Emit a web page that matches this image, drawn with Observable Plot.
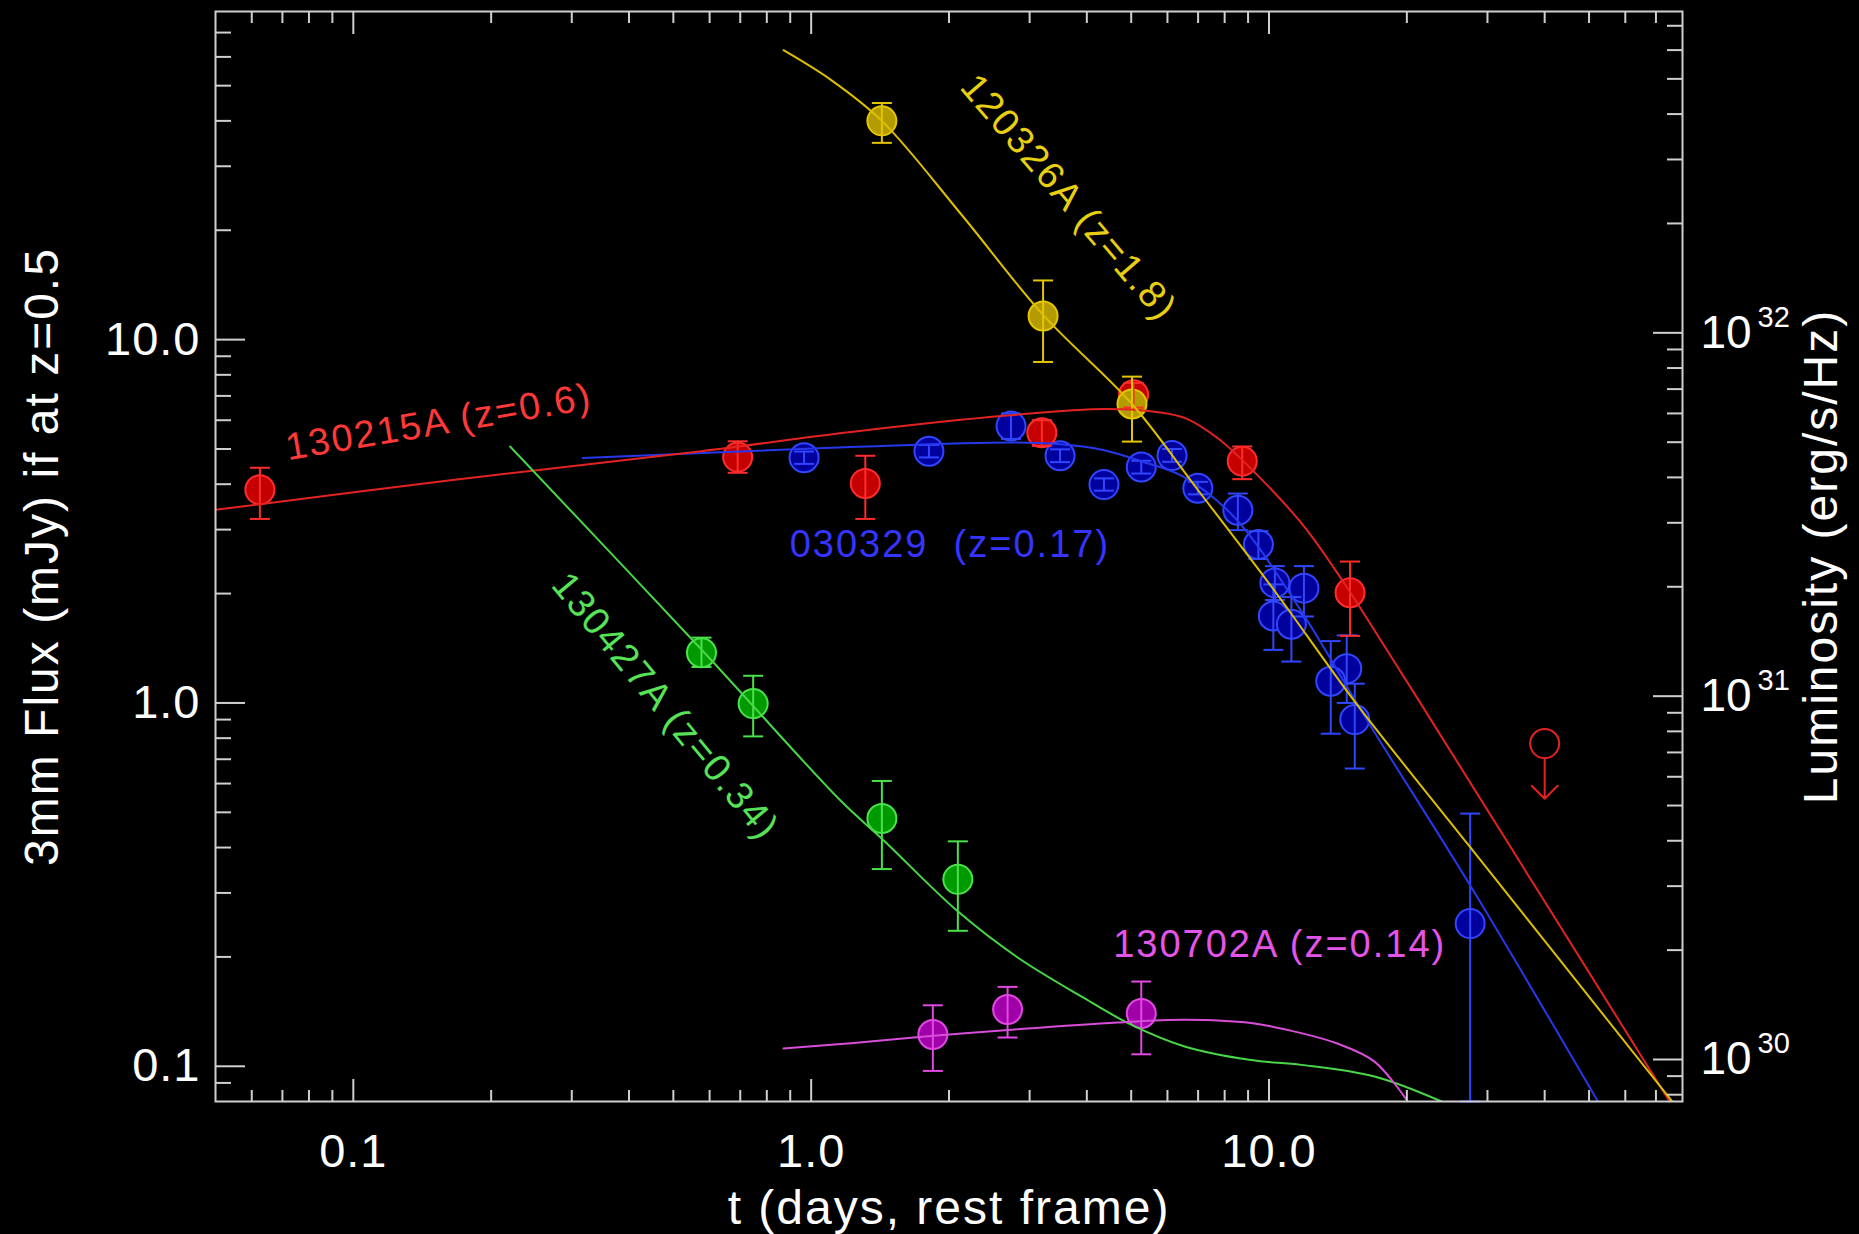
<!DOCTYPE html>
<html>
<head>
<meta charset="utf-8">
<script src="https://cdn.jsdelivr.net/npm/d3@7"></script>
<script src="https://cdn.jsdelivr.net/npm/@observablehq/plot@0.6"></script>
<style>
  html, body { margin: 0; padding: 0; background: #000; }
  #chart svg { display: block; }
</style>
</head>
<body>
<div id="chart"></div>
<script>
// ---------------- tick values ----------------
const xMajorTicks = [0.1, 1, 10];
const xMinorTicks = [0.06, 0.07, 0.08, 0.09, 0.2, 0.3, 0.4, 0.5, 0.6, 0.7, 0.8, 0.9,
                     2, 3, 4, 5, 6, 7, 8, 9, 20, 30, 40, 50, 60, 70];
const yMajorTicks = [0.1, 1, 10];
const yMinorTicks = [0.09, 0.2, 0.3, 0.4, 0.5, 0.6, 0.7, 0.8, 0.9,
                     2, 3, 4, 5, 6, 7, 8, 9, 20, 30, 40, 50, 60, 70];
const lumMajor = [1e30, 1e31, 1e32];
const lumMajorExponent = ["30", "31", "32"];
const lumMinor = [8e29, 9e29, 2e30, 3e30, 4e30, 5e30, 6e30, 7e30, 8e30, 9e30,
                  2e31, 3e31, 4e31, 5e31, 6e31, 7e31, 8e31, 9e31,
                  2e32, 3e32, 4e32, 5e32, 6e32, 7e32];
const mJyPerLum = 1.044e-31;   // 3mm flux (mJy, z=0.5) per erg/s/Hz

// ---------------- 030329 (z=0.17) ----------------
const t030329  = [0.965, 1.808, 2.732, 3.496, 4.36, 5.26, 6.14, 6.99, 8.55, 9.48, 10.30, 11.92, 10.22, 11.19, 14.78, 13.64, 15.39, 27.5];
const f030329  = [4.73, 4.93, 5.78, 4.79, 3.99, 4.46, 4.80, 3.90, 3.39, 2.73, 2.14, 2.07, 1.735, 1.646, 1.243, 1.148, 0.90, 0.247];
const lo030329 = [4.55, 4.74, 5.33, 4.60, 3.84, 4.28, 4.61, 3.75, 2.99, 2.49, 1.92, 1.73, 1.40, 1.30, 1.00, 0.823, 0.66, 0.08];
const hi030329 = [4.92, 5.13, 6.26, 4.99, 4.15, 4.64, 5.00, 4.06, 3.77, 2.97, 2.38, 2.38, 2.12, 1.956, 1.535, 1.48, 1.13, 0.496];
const modelT030329 = [0.317, 1.222, 2.744, 3.51, 4.34, 5.28, 6.54, 8.41, 11.76, 16.4, 27.7, 52.3];
const modelF030329 = [4.72, 5.06, 5.21, 5.15, 4.97, 4.62, 4.18, 3.24, 1.79, 0.893, 0.31, 0.08];

// ---------------- 130215A (z=0.6) ----------------
const t130215  = [0.0625, 0.691, 1.313, 3.19, 5.06, 8.74, 15.03];
const f130215  = [3.86, 4.75, 4.02, 5.54, 7.05, 4.63, 2.01];
const lo130215 = [3.21, 4.30, 3.21, 5.10, 6.50, 4.13, 1.53];
const hi130215 = [4.44, 5.25, 4.79, 6.00, 7.60, 5.08, 2.45];
const limT130215 = [40.0];
const limF130215 = [0.773];
const limArrowF130215 = [0.545];
const modelT130215 = [0.05, 0.163, 0.575, 1.222, 2.68, 4.42, 5.79, 6.62, 7.73, 8.74, 11.76, 13.9, 15.03, 19.45, 21.3, 75];
const modelF130215 = [3.40, 4.10, 4.93, 5.57, 6.18, 6.44, 6.30, 6.05, 5.35, 4.66, 3.13, 2.34, 2.02, 1.21, 1.01, 0.08];

// ---------------- 120326A (z=1.8) ----------------
const t120326  = [1.427, 3.21, 5.02];
const f120326  = [40.0, 11.61, 6.65];
const lo120326 = [34.8, 8.68, 5.24];
const hi120326 = [44.8, 14.55, 7.91];
const modelT120326 = [0.87, 1.106, 1.427, 2.128, 3.21, 5.02, 7.0, 10.3, 15.38, 27.2, 76];
const modelF120326 = [62.6, 51.8, 40.0, 22.1, 11.7, 6.65, 3.85, 2.03, 1.01, 0.408, 0.08];

// ---------------- 130427A (z=0.34) ----------------
const t130427  = [0.576, 0.747, 1.427, 2.091];
const f130427  = [1.375, 0.996, 0.481, 0.327];
const lo130427 = [1.256, 0.809, 0.349, 0.236];
const hi130427 = [1.513, 1.188, 0.610, 0.416];
const modelT130427 = [0.22, 0.584, 1.162, 1.433, 2.09, 2.83, 3.95, 4.92, 6.54, 9.14, 11.76, 17.0, 23.8];
const modelF130427 = [5.08, 1.377, 0.537, 0.421, 0.267, 0.199, 0.154, 0.1315, 0.1134, 0.104, 0.1009, 0.0937, 0.08];

// ---------------- 130702A (z=0.14) ----------------
const t130702  = [1.844, 2.685, 5.26];
const f130702  = [0.1223, 0.1433, 0.1397];
const lo130702 = [0.0971, 0.120, 0.1079];
const hi130702 = [0.1472, 0.1654, 0.1711];
const modelT130702 = [0.87, 1.222, 1.853, 2.83, 4.67, 6.54, 9.14, 11.76, 14.1, 17.0, 20.1];
const modelF130702 = [0.112, 0.1158, 0.1213, 0.1265, 0.132, 0.1343, 0.1315, 0.1234, 0.1155, 0.103, 0.08];

// ---------------- annotations ----------------
const labelText   = ["130215A (z=0.6)", "120326A (z=1.8)", "030329  (z=0.17)", "130427A (z=0.34)", "130702A (z=0.14)"];
const labelT      = [0.1537, 3.65, 2.009, 0.4800, 10.55];
const labelF      = [5.92, 24.6, 2.716, 0.979, 0.2156];
const labelAngle  = [-9.6, 49.5, 0, 50.5, 0];

const xTitle = "t (days, rest frame)";
const yTitle = "3mm Flux (mJy) if at z=0.5";
const y2Title = "Luminosity (erg/s/Hz)";

// ---------------- build tables ----------------
const pts = (t, f, lo, hi) => t.map((d, i) => ({t: d, f: f[i], lo: lo[i], hi: hi[i]}));
const curve = (t, f) => t.map((d, i) => ({t: d, f: f[i]}));

const series = [
  {name: "030329",  data: pts(t030329, f030329, lo030329, hi030329), model: curve(modelT030329, modelF030329),
   fill: "#00009c", stroke: "#3046ff", line: "#2738ea", text: "#3535ff"},
  {name: "130215A", data: pts(t130215, f130215, lo130215, hi130215), model: curve(modelT130215, modelF130215),
   fill: "#c40000", stroke: "#ff2c2c", line: "#e32222", text: "#ff3838"},
  {name: "120326A", data: pts(t120326, f120326, lo120326, hi120326), model: curve(modelT120326, modelF120326),
   fill: "#b39b00", stroke: "#e4c600", line: "#dcbf00", text: "#e8cf12"},
  {name: "130427A", data: pts(t130427, f130427, lo130427, hi130427), model: curve(modelT130427, modelF130427),
   fill: "#009a00", stroke: "#4ae24a", line: "#48d648", text: "#58e258"},
  {name: "130702A", data: pts(t130702, f130702, lo130702, hi130702), model: curve(modelT130702, modelF130702),
   fill: "#a000a8", stroke: "#e248e2", line: "#d84ed8", text: "#e454e8"}
];
const labelColor = [series[1].text, series[2].text, series[0].text, series[3].text, series[4].text];

const upperLimit = limT130215.map((d, i) => ({t: d, f: limF130215[i], f2: limArrowF130215[i]}));
const lumMajorFlux = lumMajor.map(L => L * mJyPerLum);
const lumMinorFlux = lumMinor.map(L => L * mJyPerLum);

const capSymbol = {
  draw(ctx, size) {
    const w = Math.sqrt(size / Math.PI);
    ctx.moveTo(-w, 0);
    ctx.lineTo(w, 0);
  }
};

const tickColor = "#cfcfcf";
const blank = () => "";
const fmt = d => d.toFixed(1);

const tickAxes = [
  Plot.axisX(xMajorTicks, {anchor: "bottom", tickSize: -22, tickFormat: blank, fill: "none", stroke: tickColor, strokeWidth: 2, label: null}),
  Plot.axisX(xMinorTicks, {anchor: "bottom", tickSize: -11, tickFormat: blank, fill: "none", stroke: tickColor, strokeWidth: 2, label: null}),
  Plot.axisX(xMajorTicks, {anchor: "top", tickSize: -22, tickFormat: blank, fill: "none", stroke: tickColor, strokeWidth: 2, label: null}),
  Plot.axisX(xMinorTicks, {anchor: "top", tickSize: -11, tickFormat: blank, fill: "none", stroke: tickColor, strokeWidth: 2, label: null}),
  Plot.axisY(yMajorTicks, {anchor: "left", tickSize: -30, tickFormat: blank, fill: "none", stroke: tickColor, strokeWidth: 2, label: null}),
  Plot.axisY(yMinorTicks, {anchor: "left", tickSize: -16, tickFormat: blank, fill: "none", stroke: tickColor, strokeWidth: 2, label: null}),
  Plot.axisY(lumMajorFlux, {anchor: "right", tickSize: -30, tickFormat: blank, fill: "none", stroke: tickColor, strokeWidth: 2, label: null}),
  Plot.axisY(lumMinorFlux, {anchor: "right", tickSize: -16, tickFormat: blank, fill: "none", stroke: tickColor, strokeWidth: 2, label: null}),
  Plot.axisX(xMajorTicks, {anchor: "bottom", tickSize: 0, tickPadding: 32, tickFormat: fmt, fontSize: 47, fill: "white", label: null}),
  Plot.axisY(yMajorTicks, {anchor: "left", tickSize: 0, tickPadding: 15, tickFormat: fmt, fontSize: 47, fill: "white", label: null})
];

const dataMarks = [];
for (const s of series) {
  dataMarks.push(Plot.dot(s.data, {x: "t", y: "f", r: 14.5, fill: s.fill, stroke: s.stroke, strokeWidth: 2}));
}
for (const s of series) {
  dataMarks.push(Plot.ruleX(s.data, {x: "t", y1: "lo", y2: "hi", stroke: s.stroke, strokeWidth: 2, clip: true}));
  dataMarks.push(Plot.dot(s.data, {x: "t", y: "lo", symbol: capSymbol, r: 10, fill: "none", stroke: s.stroke, strokeWidth: 2}));
  dataMarks.push(Plot.dot(s.data, {x: "t", y: "hi", symbol: capSymbol, r: 10, fill: "none", stroke: s.stroke, strokeWidth: 2}));
}
for (const s of series) {
  dataMarks.push(Plot.line(s.model, {x: "t", y: "f", stroke: s.line, strokeWidth: 2, curve: "catmull-rom", clip: true}));
}
dataMarks.push(Plot.dot(upperLimit, {x: "t", y: "f", r: 14.5, fill: "none", stroke: "#e32222", strokeWidth: 2}));
dataMarks.push(Plot.arrow(upperLimit, {x1: "t", y1: "f", x2: "t", y2: "f2", insetStart: 14.5, headLength: 20, headAngle: 90, stroke: "#e32222", strokeWidth: 2}));

const labelMarks = labelText.map((txt, i) =>
  Plot.text([txt], {x: () => labelT[i], y: () => labelF[i], text: d => d, rotate: labelAngle[i],
    fill: labelColor[i], fontSize: 38, textAnchor: "middle", lineAnchor: "middle"}));

const lumLabelMarks = [
  Plot.text(lumMajorFlux, {y: d => d, frameAnchor: "right", text: () => "10", dx: 18, textAnchor: "start", fontSize: 46, fill: "white"}),
  Plot.text(lumMajorFlux, {y: d => d, frameAnchor: "right", text: (d, i) => lumMajorExponent[i], dx: 75, dy: -6, textAnchor: "start", lineAnchor: "bottom", fontSize: 29, fill: "white"})
];

const titleMarks = [
  Plot.text([yTitle], {frameAnchor: "left", text: d => d, dx: -173, rotate: -90, fontSize: 48, fill: "white", textAnchor: "middle", lineAnchor: "middle"}),
  Plot.text([y2Title], {frameAnchor: "right", text: d => d, dx: 139, rotate: -90, fontSize: 48, fill: "white", textAnchor: "middle", lineAnchor: "middle"}),
  Plot.text([xTitle], {frameAnchor: "bottom", text: d => d, dy: 122, fontSize: 48, fill: "white", textAnchor: "middle", lineAnchor: "bottom"})
];

const svg = Plot.plot({
  width: 1859,
  height: 1234,
  marginLeft: 215,
  marginRight: 177,
  marginTop: 11,
  marginBottom: 133,
  style: {background: "#000", color: "white", fontFamily: "'Liberation Sans', Arial, Helvetica, sans-serif"},
  x: {type: "log", domain: [0.05, 80], label: null},
  y: {type: "log", domain: [0.08, 80], label: null},
  marks: [
    ...dataMarks,
    ...tickAxes,
    Plot.frame({stroke: tickColor, strokeWidth: 2}),
    ...labelMarks,
    ...lumLabelMarks,
    ...titleMarks
  ]
});

d3.select(svg).selectAll("text").each(function () {
  const s = this.textContent;
  this.setAttributeNS("http://www.w3.org/XML/1998/namespace", "xml:space", "preserve");
  this.style.whiteSpace = "pre";
  if (labelText.includes(s)) this.setAttribute("letter-spacing", "2");
  else if (s === xTitle || s === yTitle || s === y2Title) this.setAttribute("letter-spacing", "2");
  else if (["0.1", "1.0", "10.0"].includes(s)) this.setAttribute("letter-spacing", "1");
});

document.getElementById("chart").appendChild(svg);
</script>
</body>
</html>
